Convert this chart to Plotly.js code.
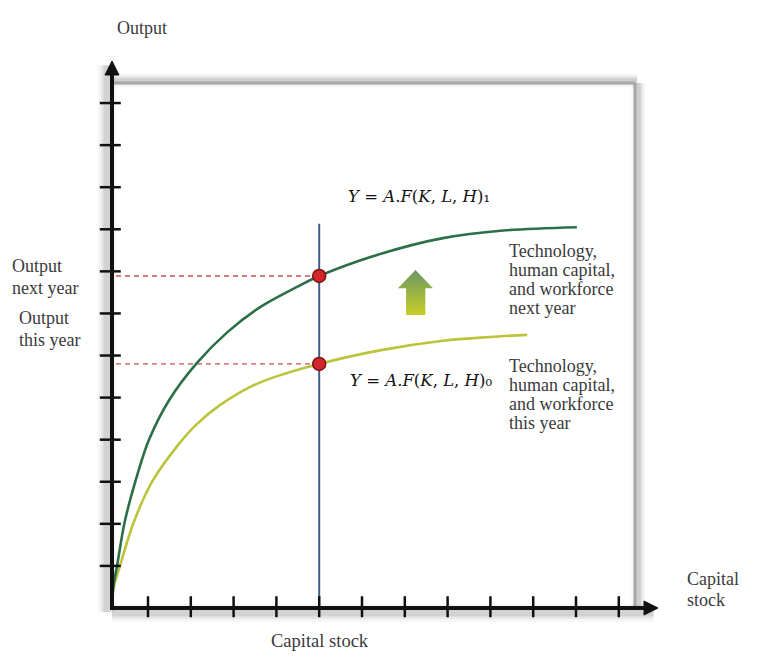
<!DOCTYPE html>
<html>
<head>
<meta charset="utf-8">
<script src="https://cdn.plot.ly/plotly-3.0.1.min.js"></script>
<style>html,body{margin:0;padding:0;background:#fff;}#chart{width:773px;height:658px;}</style>
</head>
<body>
<div id="chart"></div>
<script>
// ---- data ----
const xTicks = [1, 2, 3, 4, 5, 6, 7, 8, 9, 10, 11, 12];
const yTicks = [1, 2, 3, 4, 5, 6, 7, 8, 9, 10, 11, 12];
const nextYearK = [0.16, 0.19, 0.28, 0.45, 0.70, 1.02, 1.50, 2.14, 2.85, 3.62, 4.48, 5.0, 6.35, 7.89, 9.30, 11.02];
const nextYearY = [0, 0.50, 1.02, 2.02, 2.99, 3.99, 4.95, 5.82, 6.55, 7.15, 7.63, 7.89, 8.39, 8.79, 8.97, 9.05];
const thisYearK = [0.16, 0.19, 0.35, 0.66, 1.09, 1.70, 2.14, 2.68, 3.38, 4.02, 5.0, 6.35, 7.89, 8.99, 9.86];
const thisYearY = [0, 0.45, 1.02, 2.02, 2.99, 3.87, 4.37, 4.82, 5.25, 5.51, 5.80, 6.11, 6.35, 6.44, 6.49];
const capitalStock = 5;
const outputLevels = [7.89, 5.80];   // next year, this year
const capitalLineTop = 9.13;
const labelNext = ["Technology,", "human capital,", "and workforce", "next year"];
const labelThis = ["Technology,", "human capital,", "and workforce", "this year"];
const eqNext = "<i>Y</i> = <i>A</i>.<i>F</i>(<i>K</i>, <i>L</i>, <i>H</i>)\u2081";
const eqThis = "<i>Y</i> = <i>A</i>.<i>F</i>(<i>K</i>, <i>L</i>, <i>H</i>)\u2080";

// ---- geometry helpers (pixel -> axis units) ----
const W = 773, H = 658;
const X0PX = 105.2, XUNIT = 42.8, Y0PX = 608, YUNIT = 42.08;
const px2x = p => (p - X0PX) / XUNIT;
const py2y = p => (Y0PX - p) / YUNIT;
const originX = px2x(112);
const xTip = px2x(658), yTip = py2y(61);
const frameX = px2x(635), frameY = py2y(83);

const FONT = "Liberation Serif, Times New Roman, serif";
const TXT = "#3a3a3a";

const traces = [];
// capital stock vertical line
traces.push({x: [capitalStock, capitalStock], y: [0, capitalLineTop], mode: "lines",
  line: {color: "#3d5f8f", width: 2}, hoverinfo: "skip"});
// dashed guides
outputLevels.forEach(v => traces.push({x: [px2x(116), capitalStock], y: [v, v], mode: "lines",
  line: {color: "#c8505a", width: 1.3, dash: "5px,4px"}, hoverinfo: "skip"}));
// curves
traces.push({x: thisYearK, y: thisYearY, mode: "lines", line: {color: "#bcc43c", width: 2.6, shape: "spline", smoothing: 0.9}});
traces.push({x: nextYearK, y: nextYearY, mode: "lines", line: {color: "#2d6f47", width: 2.6, shape: "spline", smoothing: 0.9}});
// upward shift arrow (gradient)
const arrowX = [7.03, 7.03, 6.84, 7.25, 7.66, 7.48, 7.48, 7.03];
const arrowY = [6.96, 7.60, 7.60, 8.03, 7.60, 7.60, 6.96, 6.96];
traces.push({x: arrowX, y: arrowY, mode: "lines", fill: "toself", line: {width: 0, color: "rgba(0,0,0,0)"},
  fillcolor: "#98b24a",
  fillgradient: {type: "vertical", colorscale: [[0, "#c6ce26"], [1, "#6a9862"]]}, hoverinfo: "skip"});
// points
traces.push({x: [capitalStock, capitalStock], y: outputLevels, mode: "markers",
  marker: {size: 13, color: "#d2262a", line: {color: "#7a1414", width: 1.5}}, hoverinfo: "skip"});
// ticks
traces.push({x: xTicks, y: xTicks.map(() => 0.03), mode: "markers",
  marker: {symbol: "line-ns", size: 15, line: {color: "#111", width: 2.5}}, hoverinfo: "skip"});
traces.push({x: yTicks.map(() => originX - 0.04), y: yTicks, mode: "markers",
  marker: {symbol: "line-ew", size: 15, line: {color: "#111", width: 2.5}}, hoverinfo: "skip"});

const shapes = [];
// frame shadow + frame (top and right)
for (const [w, a] of [[14, 0.035], [9, 0.06], [5, 0.1]]) {
  shapes.push({type: "line", layer: "below", x0: originX, x1: frameX + 0.05, y0: frameY + 0.06, y1: frameY + 0.06,
    line: {color: `rgba(0,0,0,${a})`, width: w}});
  shapes.push({type: "line", layer: "below", x0: frameX + 0.08, x1: frameX + 0.08, y0: 0, y1: frameY,
    line: {color: `rgba(0,0,0,${a})`, width: w}});
}
shapes.push({type: "line", layer: "below", x0: originX, x1: frameX, y0: frameY, y1: frameY, line: {color: "#a8a8a8", width: 3}});
shapes.push({type: "line", layer: "below", x0: frameX, x1: frameX, y0: 0, y1: frameY, line: {color: "#a8a8a8", width: 3}});
// axis shadows
for (const [w, a] of [[18, 0.035], [12, 0.055], [7, 0.09]]) {
  shapes.push({type: "line", layer: "below", x0: originX - 0.12, x1: originX - 0.12, y0: -0.1, y1: yTip - 0.1,
    line: {color: `rgba(0,0,0,${a})`, width: w}});
  shapes.push({type: "line", layer: "below", x0: originX, x1: xTip - 0.1, y0: -0.12, y1: -0.12,
    line: {color: `rgba(0,0,0,${a})`, width: w}});
}
// axes
shapes.push({type: "line", x0: originX, x1: originX, y0: -0.05, y1: yTip - 0.25, line: {color: "#111", width: 4}});
shapes.push({type: "line", x0: originX - 0.04, x1: xTip - 0.25, y0: 0, y1: 0, line: {color: "#111", width: 4}});
// arrowheads (7 px half-width, 14 px long)
const hx = 7 / XUNIT, hy = 7 / YUNIT, lx = 14 / XUNIT, ly = 14 / YUNIT;
shapes.push({type: "path", path: `M ${originX - hx} ${yTip - ly} L ${originX} ${yTip} L ${originX + hx} ${yTip - ly} Z`,
  fillcolor: "#111", line: {color: "#111", width: 1}});
shapes.push({type: "path", path: `M ${xTip - lx} ${-hy} L ${xTip} 0 L ${xTip - lx} ${hy} Z`,
  fillcolor: "#111", line: {color: "#111", width: 1}});

const ann = [];
function label(text, xp, yp, anchor, size, family, color) {
  ann.push({x: px2x(xp), y: py2y(yp), xref: "x", yref: "y", text: text, showarrow: false,
    xanchor: anchor, yanchor: "middle", font: {family: family || FONT, size: size || 18, color: color || TXT}});
}
label("Output", 142, 28, "center");
label("Output", 10, 266, "left");
label("next year", 10, 288, "left");
label("Output", 17, 318, "left");
label("this year", 17, 340, "left");
label("Capital stock", 320, 641, "center", 18.5);
label("Capital", 685, 579, "left");
label("stock", 685, 600, "left");
labelNext.forEach((t, i) => label(t, 507, 251 + i * 19, "left"));
labelThis.forEach((t, i) => label(t, 507, 366 + i * 19, "left"));
label(eqNext, 346, 196, "left", 16.5, "DejaVu Serif, serif", "#111");
label(eqThis, 348, 380, "left", 16.5, "DejaVu Serif, serif", "#111");

const layout = {
  width: W, height: H, margin: {l: 0, r: 0, t: 0, b: 0},
  paper_bgcolor: "#fff", plot_bgcolor: "#fff", showlegend: false,
  xaxis: {range: [px2x(0), px2x(W)], visible: false, fixedrange: true},
  yaxis: {range: [py2y(H), py2y(0)], visible: false, fixedrange: true},
  shapes: shapes, annotations: ann
};
Plotly.newPlot("chart", traces, layout, {displayModeBar: false, staticPlot: true});
</script>
</body>
</html>
